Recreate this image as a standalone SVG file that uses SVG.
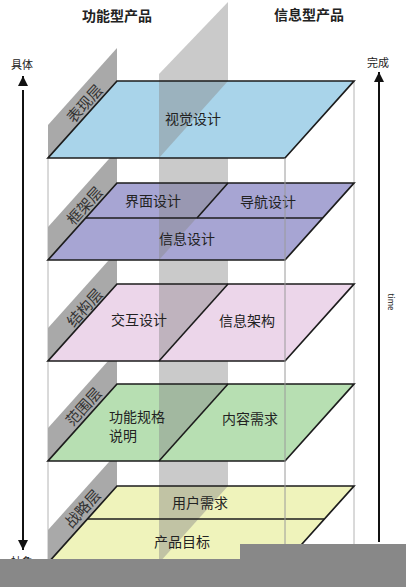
<svg xmlns="http://www.w3.org/2000/svg" width="406" height="587" viewBox="0 0 406 587">
<style>
.t{font-family:"Noto Sans CJK SC","Noto Sans",sans-serif;fill:#222;}
.lt{font-size:14px;text-anchor:middle;dominant-baseline:central;}
.pl{font-size:15px;text-anchor:middle;dominant-baseline:central;fill:#333;}
.edge{fill:none;stroke:#1c1c1c;stroke-width:1.7;stroke-linejoin:miter;}
.div{fill:none;stroke:#1c1c1c;stroke-width:1.6;}
.panel{fill:#a9a9a9;}
.band{fill:#8a8a8a;fill-opacity:0.45;}
.vl{stroke:#b4b4b4;stroke-width:1;}
.arr{stroke:#111;stroke-width:2;}
</style>
<defs>
<marker id="ah" viewBox="0 0 10 10" refX="10" refY="5" markerWidth="5" markerHeight="5" orient="auto-start-reverse" markerUnits="strokeWidth">
<path d="M0,0 L10,5 L0,10 z" fill="#111"/>
</marker>
</defs>
<rect width="406" height="587" fill="#fff"/>

<text class="t" x="117" y="21" font-size="14" font-weight="bold" text-anchor="middle">功能型产品</text>
<text class="t" x="309" y="20" font-size="14" font-weight="bold" text-anchor="middle">信息型产品</text>

<g id="guides">
<line class="vl" x1="48" y1="158" x2="48" y2="587"/>
<line class="vl" x1="354" y1="81" x2="354" y2="587"/>
</g>

<g id="panels">
<g id="p1"><polygon class="panel" points="48,158 117,81 117,48 48,125"/><text class="t pl" transform="translate(84,103) rotate(-48)">表现层</text></g>
<g id="p2"><polygon class="panel" points="48,260 117,183 117,150 48,227"/><text class="t pl" transform="translate(84,205) rotate(-48)">框架层</text></g>
<g id="p3"><polygon class="panel" points="48,361 117,284 117,251 48,328"/><text class="t pl" transform="translate(84,307) rotate(-48)">结构层</text></g>
<g id="p4"><polygon class="panel" points="48,461 117,384 117,351 48,428"/><text class="t pl" transform="translate(83,406) rotate(-48)">范围层</text></g>
<g id="p5"><polygon class="panel" points="48,563 117,486 117,453 48,530"/><text class="t pl" transform="translate(82,508) rotate(-48)">战略层</text></g>
</g>

<polygon id="band" class="band" points="159,74 228,2 228,587 159,587"/>

<g id="layer1">
<polygon points="117,81 354,81 285,158 48,158" fill="#a9d4ea"/>
<polygon class="band" points="159,81 228,81 159,158"/>
<polygon class="edge" points="117,81 354,81 285,158 48,158"/>
<text class="t lt" x="193" y="118">视觉设计</text>
</g>

<g id="layer2">
<polygon points="117,183 354,183 285,260 48,260" fill="#a7a5d3"/>
<polygon class="band" points="159,183 228,183 159,260"/>
<polygon class="edge" points="117,183 354,183 285,260 48,260"/>
<line class="div" x1="86" y1="218" x2="323" y2="218"/>
<line class="div" x1="228" y1="183" x2="197" y2="218"/>
<text class="t lt" x="153" y="200">界面设计</text>
<text class="t lt" x="268" y="201">导航设计</text>
<text class="t lt" x="187" y="238">信息设计</text>
</g>

<g id="layer3">
<polygon points="117,284 354,284 285,361 48,361" fill="#ecd6ea"/>
<polygon class="band" points="159,284 228,284 159,361"/>
<polygon class="edge" points="117,284 354,284 285,361 48,361"/>
<line class="div" x1="228" y1="284" x2="159" y2="361"/>
<text class="t lt" x="139" y="319">交互设计</text>
<text class="t lt" x="247" y="320">信息架构</text>
</g>

<g id="layer4">
<polygon points="117,384 354,384 285,461 48,461" fill="#b7dfb2"/>
<polygon class="band" points="159,384 228,384 159,461"/>
<polygon class="edge" points="117,384 354,384 285,461 48,461"/>
<line class="div" x1="228" y1="384" x2="159" y2="461"/>
<text class="t" x="109" y="422" font-size="14">功能规格</text>
<text class="t" x="109" y="441" font-size="14">说明</text>
<text class="t lt" x="250" y="418">内容需求</text>
</g>

<g id="layer5">
<polygon points="117,486 354,486 285,563 48,563" fill="#eff3bb"/>
<polygon class="band" points="159,486 228,486 159,563"/>
<polygon class="edge" points="117,486 354,486 285,563 48,563"/>
<line class="div" x1="87" y1="519" x2="324" y2="519"/>
<text class="t lt" x="200" y="502">用户需求</text>
<text class="t lt" x="182" y="541">产品目标</text>
</g>

<line id="front-right" x1="285" y1="158" x2="285" y2="587" stroke="#9a9a9a" stroke-width="1"/>

<g id="connectors">
<line class="arr" x1="23" y1="90" x2="23" y2="540"/>
<line class="arr" x1="23" y1="84" x2="23" y2="76" marker-end="url(#ah)"/>
<line class="arr" x1="23" y1="540" x2="23" y2="550" marker-end="url(#ah)"/>
<line class="arr" x1="379" y1="84" x2="379" y2="542"/>
<line class="arr" x1="379" y1="84" x2="379" y2="72" marker-end="url(#ah)"/>
</g>

<text class="t" x="22" y="69" font-size="11" text-anchor="middle">具体</text>
<text class="t" x="378" y="67" font-size="11" text-anchor="middle">完成</text>
<text class="t" x="22" y="566" font-size="11" text-anchor="middle">抽象</text>
<text class="t" transform="translate(388,302) rotate(90)" font-size="8" text-anchor="middle" font-family="Liberation Sans,sans-serif">time</text>

<g id="cover">
<rect x="0" y="559" width="406" height="28" fill="#888"/>
<rect x="240" y="544" width="166" height="43" fill="#888"/>
</g>
</svg>
